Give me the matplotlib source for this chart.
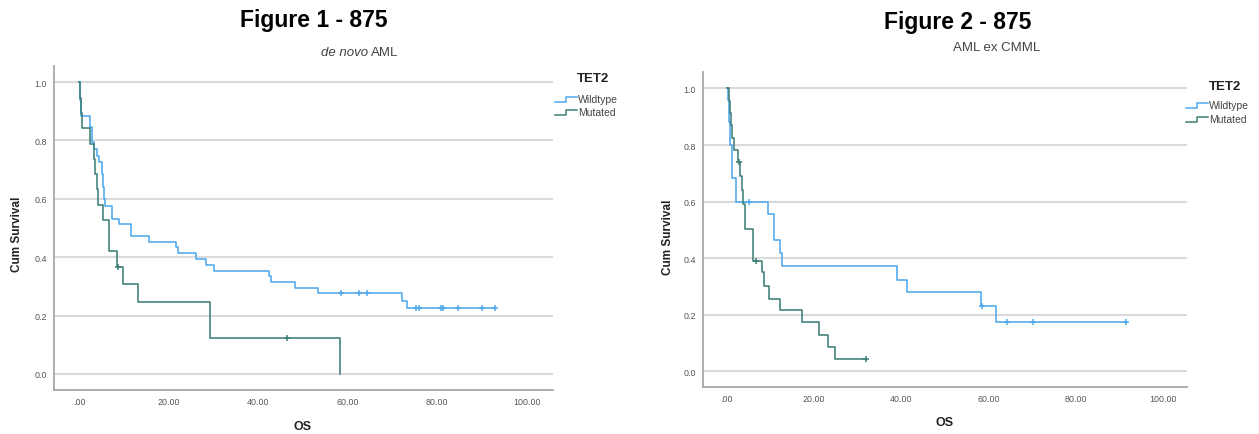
import matplotlib
matplotlib.use("Agg")
import matplotlib.pyplot as plt
from matplotlib.lines import Line2D

W, H = 1259, 435
plt.rcParams['font.family'] = ['Liberation Sans', 'DejaVu Sans']

# ---------------- data ----------------
series_names = ["Wildtype", "Mutated"]
legend_title = "TET2"
panel_titles = ["Figure 1 - 875", "Figure 2 - 875"]
x_ticks = [0, 20, 40, 60, 80, 100]
x_tick_labels = [".00", "20.00", "40.00", "60.00", "80.00", "100.00"]
y_ticks = [0.0, 0.2, 0.4, 0.6, 0.8, 1.0]
y_tick_labels = ["0.0", "0.2", "0.4", "0.6", "0.8", "1.0"]

# Figure 1 (de novo AML) - Wildtype
wt1_t = [0, 0.1, 0.3, 2.35, 2.7, 3.3, 3.85, 4.4, 4.96, 5.2, 5.5, 5.7, 7.3, 8.9,
         11.6, 15.5, 21.6, 22.1, 26.1, 28.3, 30.1, 42.3, 42.8, 48.3, 53.3, 72.1, 73.3]
wt1_s = [1.0, 0.94, 0.885, 0.845, 0.793, 0.77, 0.748, 0.725, 0.685, 0.64, 0.60, 0.574, 0.530, 0.512,
         0.474, 0.453, 0.434, 0.414, 0.394, 0.374, 0.354, 0.337, 0.316, 0.295, 0.276, 0.251, 0.226]
wt1_end = 92.9
wt1_cens_t = [58.4, 62.5, 64.2, 75.2, 75.9, 80.9, 81.4, 84.7, 90.1, 92.9]
wt1_cens_s = [0.276, 0.276, 0.276, 0.226, 0.226, 0.226, 0.226, 0.226, 0.226, 0.226]

# Figure 1 (de novo AML) - Mutated
mu1_t = [0, 0.15, 0.35, 0.6, 2.35, 3.2, 3.47, 3.85, 4.2, 5.3, 6.5, 6.7, 8.45, 9.8, 13.1, 29.2, 58.3]
mu1_s = [1.0, 0.947, 0.895, 0.842, 0.789, 0.737, 0.684, 0.632, 0.579, 0.526, 0.474, 0.421, 0.368,
         0.307, 0.246, 0.123, 0.0]
mu1_end = 58.3
mu1_cens_t = [8.6, 46.3]
mu1_cens_s = [0.368, 0.123]

# Figure 2 (AML ex CMML) - Wildtype
wt2_t = [0, 0.3, 0.5, 0.8, 1.2, 2.1, 9.5, 10.8, 12.3, 12.6, 38.9, 41.2, 58.2, 61.7]
wt2_s = [1.0, 0.96, 0.88, 0.80, 0.685, 0.60, 0.556, 0.464, 0.42, 0.371, 0.324, 0.279, 0.23, 0.174]
wt2_end = 91.6
wt2_cens_t = [5.2, 58.4, 64.3, 70.1, 91.6]
wt2_cens_s = [0.60, 0.23, 0.174, 0.174, 0.174]

# Figure 2 (AML ex CMML) - Mutated
mu2_t = [0, 0.4, 0.7, 1.0, 1.3, 1.7, 2.5, 3.1, 3.4, 3.7, 4.1, 5.9, 8.1, 8.6, 9.6, 12.3, 17.2,
         21.1, 23.2, 24.8]
mu2_s = [1.0, 0.957, 0.913, 0.870, 0.826, 0.783, 0.739, 0.69, 0.64, 0.591, 0.505, 0.391, 0.35,
         0.302, 0.256, 0.217, 0.173, 0.13, 0.087, 0.043]
mu2_end = 31.8
mu2_cens_t = [2.8, 6.6, 31.8]
mu2_cens_s = [0.739, 0.391, 0.043]

# ---------------- style ----------------
c_wt = "#4ea8ec"
c_mu = "#3d7f77"
grid_c = "#dadada"
spine_c = "#a8a8a8"
tick_c = "#555555"


def px(x, y):
    return (x / W, 1 - y / H)


fig = plt.figure(figsize=(W / 100, H / 100), dpi=100)

panels = [
    dict(rect=[54 / W, 1 - 390.7 / H, (553 - 54) / W, (390.7 - 67) / H],
         xlim=(-5.7, 105.9), ylim=(-0.054, 1.055),
         series=[(wt1_t, wt1_s, wt1_end, wt1_cens_t, wt1_cens_s, c_wt),
                 (mu1_t, mu1_s, mu1_end, mu1_cens_t, mu1_cens_s, c_mu)],
         title_xy=(314, 20), ylabel_xy=(17, 234), xlabel_xy=(303, 427),
         leg_title_xy=(593, 79), leg_rows=[100, 113.5], leg_x0=555),
    dict(rect=[703 / W, 1 - 388.3 / H, (1186.7 - 703) / W, (388.3 - 73.3) / H],
         xlim=(-5.45, 105.4), ylim=(-0.056, 1.057),
         series=[(wt2_t, wt2_s, wt2_end, wt2_cens_t, wt2_cens_s, c_wt),
                 (mu2_t, mu2_s, mu2_end, mu2_cens_t, mu2_cens_s, c_mu)],
         title_xy=(958, 22), ylabel_xy=(668, 237), xlabel_xy=(945, 423),
         leg_title_xy=(1225, 87), leg_rows=[106, 120], leg_x0=1186),
]

for i, p in enumerate(panels):
    ax = fig.add_axes(p["rect"])
    ax.set_xlim(*p["xlim"])
    ax.set_ylim(*p["ylim"])
    for s in ["top", "right"]:
        ax.spines[s].set_visible(False)
    for s in ["left", "bottom"]:
        ax.spines[s].set_color(spine_c)
        ax.spines[s].set_linewidth(1.3)
    ax.set_yticks(y_ticks)
    ax.set_yticklabels(y_tick_labels)
    ax.set_xticks(x_ticks)
    ax.set_xticklabels(x_tick_labels)
    ax.tick_params(length=0, labelsize=6.4, colors=tick_c, pad=5)
    for yv in y_ticks:
        ax.axhline(yv, color=grid_c, lw=1.5, zorder=0)
    for (t, s, end, ct, cs, col) in p["series"]:
        ax.step(list(t) + [end], list(s) + [s[-1]], where="post", color=col, lw=1.15, zorder=3)
        ax.plot(ct, cs, "+", color=col, ms=4.5, mew=1.1, zorder=4)

    # titles and labels
    fig.text(*px(*p["title_xy"]), panel_titles[i], ha="center", va="center",
             fontsize=16.5, fontweight="bold", color="black")
    fig.text(*px(*p["ylabel_xy"]), "Cum Survival", ha="center", va="center",
             rotation=90, fontsize=8.5, fontweight="bold", color="#222222")
    fig.text(*px(*p["xlabel_xy"]), "OS", ha="center", va="center",
             fontsize=9, fontweight="bold", color="#222222")

    # legend
    fig.text(*px(*p["leg_title_xy"]), legend_title, ha="center", va="center",
             fontsize=9.5, fontweight="bold", color="#222222")
    x0 = p["leg_x0"]
    for name, yrow, col in zip(series_names, p["leg_rows"], [c_wt, c_mu]):
        xs = [x0, x0 + 11, x0 + 11, x0 + 22]
        ys = [yrow + 2.5, yrow + 2.5, yrow - 2.5, yrow - 2.5]
        fx = [x / W for x in xs]
        fy = [1 - y / H for y in ys]
        fig.add_artist(Line2D(fx, fy, transform=fig.transFigure, color=col, lw=1.1))
        fig.text(*px(x0 + 23, yrow), name, ha="left", va="center",
                 fontsize=7.5, color="#444444")

# subtitles
fig.text(*px(368, 53), "de novo", ha="right", va="center", fontsize=9.5,
         style="italic", color="#444444")
fig.text(*px(371, 53), "AML", ha="left", va="center", fontsize=9.5, color="#444444")
fig.text(*px(997, 48), "AML ex CMML", ha="center", va="center", fontsize=9.5, color="#444444")

fig.savefig("out.png", dpi=100)
